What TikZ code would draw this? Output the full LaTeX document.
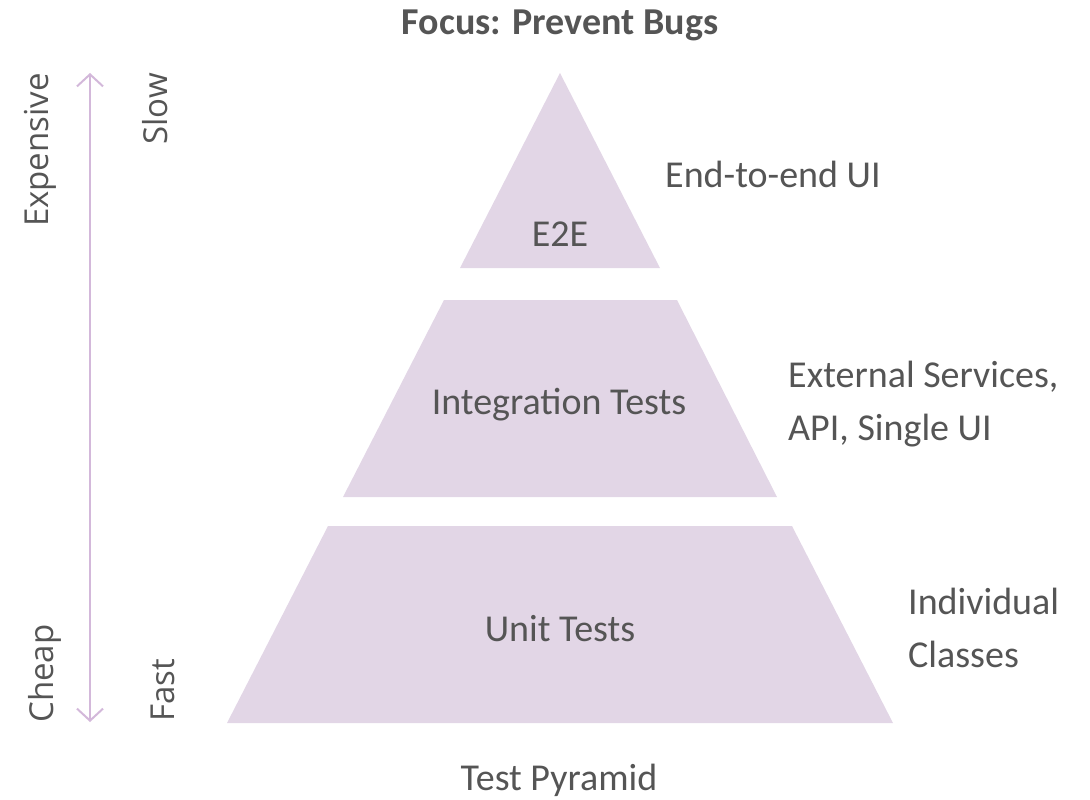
\documentclass[tikz,border=0pt]{standalone}
\usepackage{fontspec}
\setmainfont{Carlito}
\newfontfamily\sidefont{Open Sans}
\usetikzlibrary{arrows.meta}

\definecolor{layerfill}{HTML}{E2D6E6}
\definecolor{axiscol}{HTML}{D3B8DA}
\definecolor{textcol}{HTML}{555555}

\tikzset{
  layer/.style={fill=layerfill, draw=none},
  lbl/.style={text=textcol, inner sep=0pt, font=\fontsize{38}{45}\selectfont},
  ttl/.style={text=textcol, inner sep=0pt, font=\fontsize{38}{45}\selectfont\bfseries},
  side/.style={text=textcol, inner sep=0pt, rotate=90, font=\sidefont\fontsize{33}{40}\selectfont},
  axis/.style={draw=axiscol, line width=2pt, {Straight Barb[length=12pt,width=26pt,line width=2pt]}-{Straight Barb[length=12pt,width=26pt,line width=2pt]}}
}

\begin{document}
\begin{tikzpicture}[x=1pt,y=-1pt]
  \useasboundingbox (0,0) rectangle (1090,800);

  % pyramid layers
  \fill[layer] (560,73) -- (660,268) -- (460,268) -- cycle;
  \fill[layer] (444,300) -- (677,300) -- (777,497) -- (343,497) -- cycle;
  \fill[layer] (328,526) -- (792,526) -- (893,723) -- (227,723) -- cycle;

  % title and layer names
  \node[ttl, anchor=base] (title) at (560,35) {Focus: Prevent Bugs};
  \node[lbl, anchor=base] (e2e) at (560,246) {E2E};
  \node[lbl, anchor=base] (integ) at (559,414) {Integration Tests};
  \node[lbl, anchor=base] (unit) at (560,641) {Unit Tests};
  \node[lbl, anchor=base] (caption) at (559,790) {Test Pyramid};

  % layer descriptions
  \node[lbl, anchor=base west] (e2edesc) at (665,187) {End-to-end UI};
  \node[lbl, anchor=base west] (integdesc1) at (788,387) {External Services,};
  \node[lbl, anchor=base west] (integdesc2) at (788,440) {API, Single UI};
  \node[lbl, anchor=base west] (unitdesc1) at (908,614) {Individual};
  \node[lbl, anchor=base west] (unitdesc2) at (908,667) {Classes};

  % cost / speed axis
  \coordinate (axtop) at (90,73);
  \coordinate (axbot) at (90,722);
  \draw[axis] (axbot) -- (axtop);
  \node[side, anchor=base east] (expensive) at (48,73) {Expensive};
  \node[side, anchor=base west] (cheap) at (53,723) {Cheap};
  \node[side, anchor=base east] (slow) at (167,73) {Slow};
  \node[side, anchor=base west] (fast) at (174,722) {Fast};
\end{tikzpicture}
\end{document}
